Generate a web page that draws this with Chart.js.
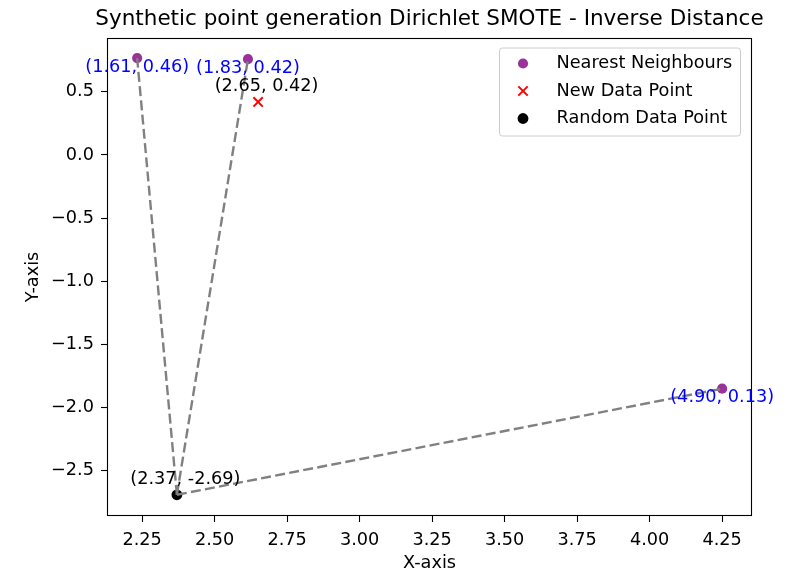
<!DOCTYPE html>
<html>
<head>
<meta charset="utf-8">
<script src="https://cdn.jsdelivr.net/npm/chart.js@4.4.1/dist/chart.umd.min.js"></script>
<style>
  html, body { margin: 0; padding: 0; background: #fff; }
  canvas { display: block; }
</style>
</head>
<body>
<canvas id="smoteChart" width="788" height="572"></canvas>
<script>
// neighbour positions and the text printed beside them
const neighbourX = [2.233, 2.615, 4.250];
const neighbourY = [0.767, 0.759, -1.850];
const neighbourLabels = ['(1.61, 0.46)', '(1.83, 0.42)', '(4.90, 0.13)'];

const newPoint = [2.65, 0.42];
const randomPoint = [2.37, -2.69];

const xTicks = [2.25, 2.50, 2.75, 3.00, 3.25, 3.50, 3.75, 4.00, 4.25];
const yTicks = [0.5, 0.0, -0.5, -1.0, -1.5, -2.0, -2.5];
const xLimits = [2.129, 4.353];
const yLimits = [-2.858, 0.926];

const TITLE = 'Synthetic point generation Dirichlet SMOTE - Inverse Distance';
const FONT = 'DejaVu Sans';
const FS = 17.7;
const tickFont = { family: FONT, size: FS };
const PURPLE = 'rgba(128, 0, 128, 0.8)';

const fmt = (v, d) => v.toFixed(d).replace('-', '\u2212');
const pairText = (x, y) => '(' + x.toFixed(2) + ', ' + y.toFixed(2) + ')';

// dashed links from the random point to each neighbour
const links = neighbourX.map((x, i) => ({
  label: 'link' + i,
  data: [{ x: randomPoint[0], y: randomPoint[1] }, { x: x, y: neighbourY[i] }],
  showLine: true,
  borderColor: '#808080',
  borderWidth: 2.4,
  borderDash: [10, 4.3],
  pointRadius: 0,
  fill: false,
  inLegend: false
}));

const datasets = links.concat([
  {
    label: 'Random Data Point',
    data: [{ x: randomPoint[0], y: randomPoint[1] }],
    backgroundColor: '#000',
    borderWidth: 0,
    pointRadius: 5.4,
    inLegend: true
  },
  {
    label: 'New Data Point',
    data: [{ x: newPoint[0], y: newPoint[1] }],
    pointStyle: 'crossRot',
    borderColor: '#ff0000',
    borderWidth: 2,
    pointRadius: 6.6,
    inLegend: true
  },
  {
    label: 'Nearest Neighbours',
    data: neighbourX.map((x, i) => ({ x: x, y: neighbourY[i] })),
    backgroundColor: PURPLE,
    borderWidth: 0,
    pointRadius: 5.1,
    inLegend: true
  }
]);

// title, frame, point annotations and the boxed legend
const overlay = {
  id: 'overlay',
  afterDatasetsDraw(chart) {
    const ctx = chart.ctx;
    const a = chart.chartArea;
    const xs = chart.scales.x, ys = chart.scales.y;

    ctx.save();
    ctx.textAlign = 'center';
    ctx.textBaseline = 'middle';
    ctx.fillStyle = '#000';
    ctx.font = '21.5px "' + FONT + '"';
    ctx.fillText(TITLE, (a.left + a.right) / 2, a.top - 18.7);

    ctx.strokeStyle = '#000';
    ctx.lineWidth = 1.1;
    ctx.strokeRect(a.left + 0.5, a.top + 0.5, a.right - a.left - 1, a.bottom - a.top - 1);

    ctx.font = FS + 'px "' + FONT + '"';

    ctx.fillStyle = '#0000ff';
    neighbourLabels.forEach((t, i) => {
      ctx.fillText(t, xs.getPixelForValue(neighbourX[i]), ys.getPixelForValue(neighbourY[i]) + 9);
    });

    ctx.fillStyle = '#000';
    [newPoint, randomPoint].forEach(p => {
      ctx.fillText(pairText(p[0], p[1]), xs.getPixelForValue(p[0]) + 8.5, ys.getPixelForValue(p[1]) - 15.5);
    });

    // legend
    const entries = chart.data.datasets.filter(d => d.inLegend).reverse();
    const bw = 241, bh = 88;
    const bx = a.right - 12 - bw, by = a.top + 9.5;
    ctx.beginPath();
    ctx.roundRect(bx + 0.5, by + 0.5, bw, bh, 3);
    ctx.fillStyle = 'rgba(255, 255, 255, 0.8)';
    ctx.fill();
    ctx.strokeStyle = '#cccccc';
    ctx.lineWidth = 1;
    ctx.stroke();

    ctx.textAlign = 'left';
    entries.forEach((d, i) => {
      const cy = by + 16 + i * 27.5;
      const cx = bx + 24;
      if (d.pointStyle === 'crossRot') {
        const r = d.pointRadius * Math.SQRT1_2;
        ctx.beginPath();
        ctx.moveTo(cx - r, cy - r); ctx.lineTo(cx + r, cy + r);
        ctx.moveTo(cx + r, cy - r); ctx.lineTo(cx - r, cy + r);
        ctx.strokeStyle = d.borderColor;
        ctx.lineWidth = d.borderWidth;
        ctx.stroke();
      } else {
        ctx.beginPath();
        ctx.arc(cx, cy, d.pointRadius, 0, Math.PI * 2);
        ctx.fillStyle = d.backgroundColor;
        ctx.fill();
      }
      ctx.fillStyle = '#000';
      ctx.fillText(d.label, bx + 57.5, cy);
    });
    ctx.restore();
  }
};

new Chart(document.getElementById('smoteChart'), {
  type: 'scatter',
  data: { datasets: datasets },
  plugins: [overlay],
  options: {
    responsive: false,
    animation: false,
    layout: { padding: { left: 0, right: 36, top: 38, bottom: 0 } },
    plugins: {
      legend: { display: false },
      tooltip: { enabled: false },
      title: { display: false }
    },
    scales: {
      x: {
        type: 'linear',
        min: xLimits[0],
        max: xLimits[1],
        afterBuildTicks: s => { s.ticks = xTicks.map(v => ({ value: v })); },
        afterFit: s => { s.height = 56; },
        grid: { drawOnChartArea: false, tickLength: 6, tickColor: '#000', tickWidth: 1.1 },
        border: { display: false },
        ticks: { color: '#000', font: tickFont, padding: 8, maxRotation: 0, autoSkip: false, callback: v => fmt(v, 2) },
        title: { display: true, text: 'X-axis', color: '#000', font: { family: FONT, size: FS, lineHeight: 1 }, padding: { top: 0, bottom: 0 } }
      },
      y: {
        type: 'linear',
        min: yLimits[0],
        max: yLimits[1],
        afterBuildTicks: s => { s.ticks = yTicks.map(v => ({ value: v })); },
        afterFit: s => { s.width = 107; },
        grid: { drawOnChartArea: false, tickLength: 6, tickColor: '#000', tickWidth: 1.1 },
        border: { display: false },
        ticks: { color: '#000', font: tickFont, padding: 7, autoSkip: false, callback: v => fmt(v, 1) },
        title: { display: true, text: 'Y-axis', color: '#000', font: { family: FONT, size: FS, lineHeight: 1 }, padding: { top: 25, bottom: 0 } }
      }
    }
  }
});
</script>
</body>
</html>
